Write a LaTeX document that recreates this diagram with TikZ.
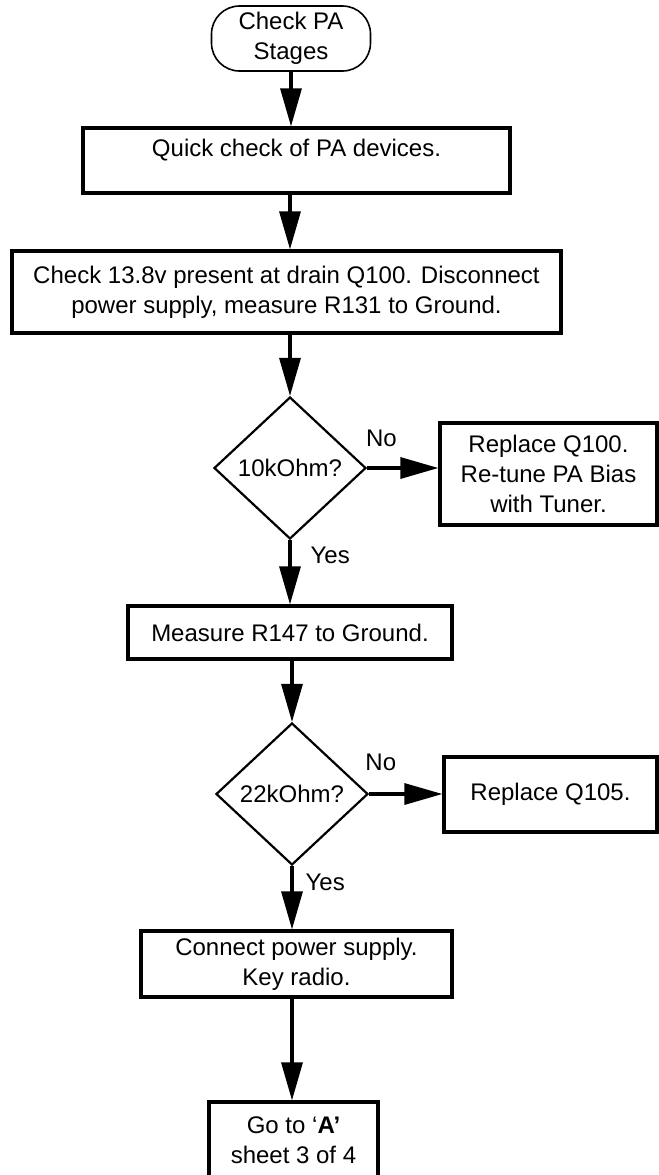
\documentclass[tikz,border=0pt]{standalone}
\usepackage{fontspec}
\setmainfont{Liberation Sans}
\usetikzlibrary{shapes.geometric,arrows.meta}

\tikzstyle{tS}=[rectangle,rounded corners=14pt,draw,line width=0.8pt,minimum width=79.5pt,minimum height=32.5pt,inner sep=0pt,align=center]
\tikzstyle{bS}=[rectangle,draw,line width=1.6pt,inner sep=0pt,align=center]
\tikzstyle{dS}=[diamond,draw,line width=1.1pt,minimum width=76pt,minimum height=71pt,inner sep=0pt]
\tikzstyle{aS}=[line width=1.6pt,-{Triangle[length=19pt,width=10.5pt]}]
\tikzstyle{lS}=[inner sep=0pt]

\begin{document}
\begin{tikzpicture}[x=0.5pt,y=-0.5pt,font=\fontsize{12}{15}\selectfont]
    \useasboundingbox (0,0) rectangle (659,1175);
    \draw (291,38.5) node[tS] (start) {Check PA\\Stages};
    \draw (296.5,160.5) node[bS,minimum width=213.5pt,minimum height=32.5pt,text depth=13pt] (quick) {Quick check of PA devices.};
    \draw (286.5,292) node[bS,minimum width=274.5pt,minimum height=41pt] (drain) {Check 13.8v present at drain Q100. Disconnect\\power supply, measure R131 to Ground.};
    \draw (290,468) node[dS] (ohm10) {10kOhm?};
    \draw (548.5,474) node[bS,minimum width=108.5pt,minimum height=51pt] (q100) {Replace Q100.\\Re-tune PA Bias\\with Tuner.};
    \draw (290,632.5) node[bS,minimum width=162pt,minimum height=26.5pt] (r147) {Measure R147 to Ground.};
    \draw (292,794) node[dS] (ohm22) {22kOhm?};
    \draw (550.5,794.5) node[bS,minimum width=106.5pt,minimum height=37.5pt] (q105) {Replace Q105.};
    \draw (296.5,964) node[bS,minimum width=155.5pt,minimum height=33pt] (power) {Connect power supply.\\Key radio.};
    \draw (293.5,1140) node[bS,minimum width=84.5pt,minimum height=38pt] (sheet) {Go to `\textbf{A'}\\sheet 3 of 4};


    \path
        (start) edge[aS] (start |- quick.north)
        (quick.south -| ohm10) edge[aS] (ohm10 |- drain.north)
        (drain.south -| ohm10) edge[aS] (ohm10)
        (ohm10) edge[aS] node[lS,pos=0.2,above=10pt]{No} (ohm10 -| q100.west)
        (ohm10) edge[aS] node[lS,pos=0.24,right=9.5pt]{Yes} (ohm10 |- r147.north)
        (r147.south -| ohm22) edge[aS] (ohm22)
        (ohm22) edge[aS] node[lS,pos=0.16,above=11pt]{No} (ohm22 -| q105.west)
        (ohm22) edge[aS] node[lS,pos=0.25,right=6pt]{Yes} (ohm22 |- power.north)
        (power.south -| ohm22) edge[aS] (ohm22 |- sheet.north)
    ;
\end{tikzpicture}
\end{document}
